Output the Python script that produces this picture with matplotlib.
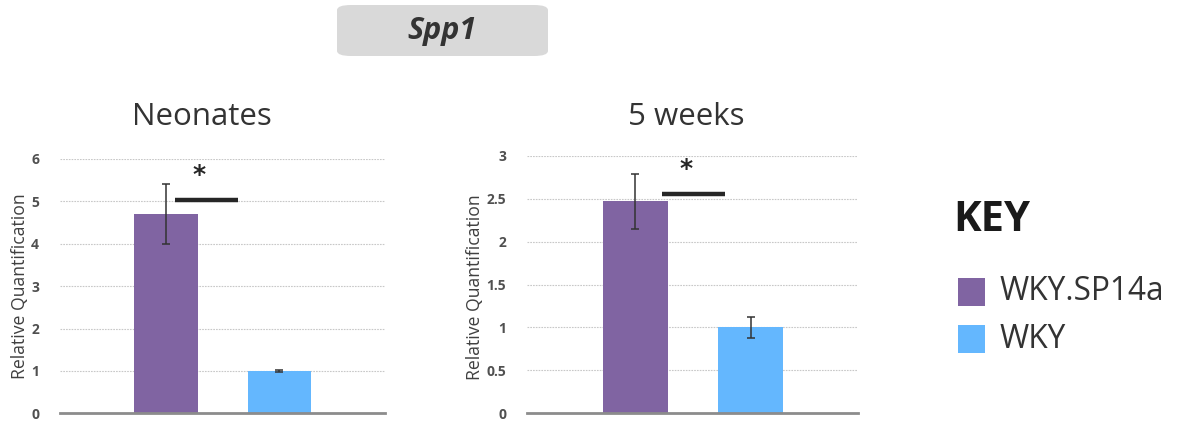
import matplotlib
matplotlib.use("Agg")
import matplotlib.pyplot as plt
from matplotlib.patches import FancyBboxPatch, Rectangle

# Data
strains = ["WKY.SP14a", "WKY"]
colors = ["#8064a2", "#64b7fe"]
neonates_vals = [4.70, 1.00]
neonates_err = [0.70, 0.03]
weeks5_vals = [2.47, 1.00]
weeks5_err = [0.32, 0.125]
neonates_ticks = [0, 1, 2, 3, 4, 5, 6]
weeks5_ticks = [0, 0.5, 1, 1.5, 2, 2.5, 3]
neonates_ticklabels = ["0", "1", "2", "3", "4", "5", "6"]
weeks5_ticklabels = ["0", "0.5", "1", "1.5", "2", "2.5", "3"]
panel_titles = ["Neonates", "5 weeks"]
gene = "Spp1"
sig_levels = [5.03, 2.55]
star_levels = [5.62, 2.85]

W, H = 1183, 423
fig = plt.figure(figsize=(W / 100, H / 100), dpi=100)
FONT = "Open Sans"

def px_axes(x0, x1, y_top, y_bot):
    return fig.add_axes([x0 / W, 1 - y_bot / H, (x1 - x0) / W, (y_bot - y_top) / H])

axes = [px_axes(60, 385, 159, 413.3), px_axes(527, 858, 155.7, 413.3)]
vals_list = [neonates_vals, weeks5_vals]
err_list = [neonates_err, weeks5_err]
ticks_list = [neonates_ticks, weeks5_ticks]
tl_list = [neonates_ticklabels, weeks5_ticklabels]
xlims = [(-0.93, 1.93), (-0.94, 1.93)]
sig_x = [(0.084, 0.64), (0.23, 0.78)]
star_x = [0.295, 0.44]
ylabel_x = [-0.095, -0.13]
ylabel_y = [0.5, 0.49]
title_px = [(202, 125), (686.5, 125)]

# find ylabel font size giving ~188 px length
renderer = fig.canvas.get_renderer()
probe = fig.text(0, 0, "Relative Quantification", fontsize=10, family=FONT)
probe_len = probe.get_window_extent(renderer).width
probe.remove()
ylabel_fs = 10 * 186 / probe_len

for ax, vals, errs, ticks, tls, title, sig, star, xl, sx, stx, ylx, yly, tp in zip(
        axes, vals_list, err_list, ticks_list, tl_list, panel_titles, sig_levels,
        star_levels, xlims, sig_x, star_x, ylabel_x, ylabel_y, title_px):
    x = list(range(len(vals)))
    ax.bar(x, vals, width=0.56, color=colors, zorder=3)
    ax.errorbar(x, vals, yerr=errs, fmt="none", ecolor="#333333", elinewidth=1.1,
                capsize=3, capthick=1.1, zorder=4)
    ax.set_ylim(0, ticks[-1])
    ax.set_xlim(*xl)
    ax.set_yticks(ticks)
    ax.set_yticklabels(tls, fontsize=10, color="#505050", family=FONT, fontweight="bold")
    ax.set_xticks([])
    for s in ["top", "right", "left"]:
        ax.spines[s].set_visible(False)
    ax.spines["bottom"].set_color("#8c8c8c")
    ax.spines["bottom"].set_linewidth(2)
    ax.spines["bottom"].set_zorder(5)
    ax.tick_params(axis="y", length=0, pad=15)
    ax.yaxis.grid(True, linestyle=(0, (1.5, 1)), color="#c8c8c8", linewidth=0.8, zorder=0)
    ax.set_axisbelow(True)
    ax.set_ylabel("Relative Quantification", fontsize=ylabel_fs, color="#404040", family=FONT)
    ax.yaxis.set_label_coords(ylx, yly)
    fig.text(tp[0] / W, 1 - tp[1] / H, title, ha="center", va="baseline", fontsize=22.5,
             color="#333333", family=FONT)
    ax.plot(list(sx), [sig, sig], color="#262626", linewidth=3.2, solid_capstyle="butt", zorder=5)
    ax.text(stx, star, "*", ha="center", va="center", fontsize=18, fontweight="bold",
            color="#262626", family="DejaVu Sans")

# Gene title box
box = FancyBboxPatch((337 / W, 1 - 56 / H), (548 - 337) / W, (56 - 5) / H,
                     boxstyle="round,pad=0,rounding_size=0.012", transform=fig.transFigure,
                     facecolor="#d9d9d9", edgecolor="none")
fig.patches.append(box)
fig.text(442 / W, 1 - 31 / H, gene, ha="center", va="center", fontsize=22, fontweight="bold",
         fontstyle="italic", color="#333333", family=FONT)

# Key
fig.text(953 / W, 1 - 220 / H, "KEY", ha="left", va="center", fontsize=30, fontweight="bold",
         color="#1a1a1a", family=FONT)
for i, (name, c) in enumerate(zip(strains, colors)):
    y_top = 278 + i * 47
    fig.patches.append(Rectangle((958 / W, 1 - (y_top + 28) / H), 27 / W, 28 / H,
                                 transform=fig.transFigure, facecolor=c, edgecolor="none"))
    fig.text(1000 / W, 1 - (y_top + 14) / H, name, ha="left", va="center", fontsize=22.8,
             color="#333333", family=FONT)

fig.savefig("out.png", dpi=100)
